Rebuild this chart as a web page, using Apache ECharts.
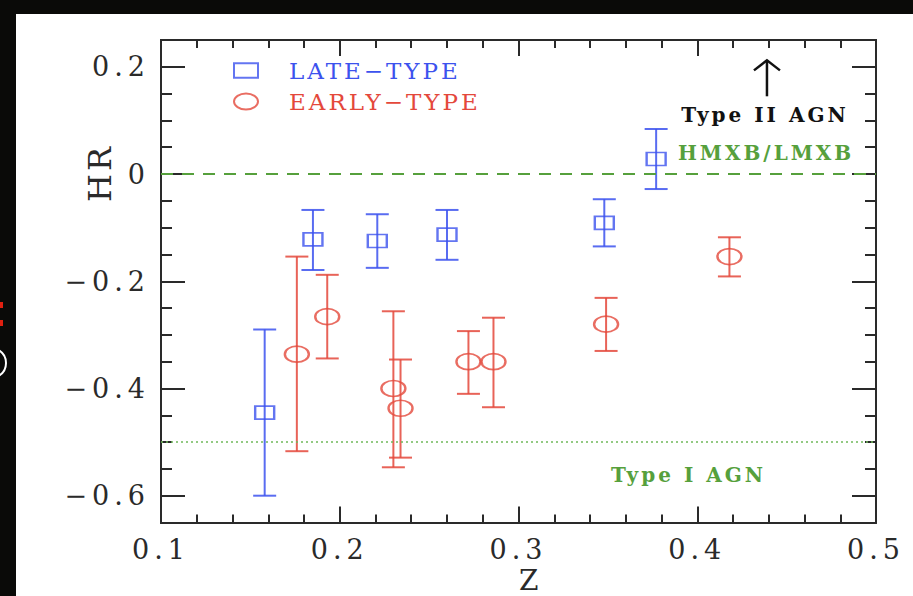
<!DOCTYPE html>
<html>
<head>
<meta charset="utf-8">
<script src="https://cdn.jsdelivr.net/npm/echarts@6/dist/echarts.min.js"></script>
<style>
  html, body { margin: 0; padding: 0; background: #0a0a08; }
  #chart { width: 913px; height: 596px; }
  #chart svg text { letter-spacing: 3px; }
  #chart svg text[style*="27px"] { letter-spacing: 5px; }
</style>
</head>
<body>
<div id="chart"></div>
<script>
// Hardness ratio vs redshift for late- and early-type hosts
const lateZ  = [0.158, 0.185, 0.221, 0.260, 0.348, 0.377];
const lateHR = [-0.445, -0.122, -0.125, -0.113, -0.091, 0.028];
const lateHi = [-0.290, -0.067, -0.075, -0.067, -0.047, 0.084];
const lateLo = [-0.600, -0.179, -0.175, -0.160, -0.135, -0.028];

const earlyZ  = [0.176, 0.193, 0.230, 0.234, 0.272, 0.286, 0.349, 0.418];
const earlyHR = [-0.336, -0.266, -0.400, -0.437, -0.350, -0.350, -0.280, -0.154];
const earlyHi = [-0.154, -0.188, -0.256, -0.346, -0.293, -0.268, -0.231, -0.118];
const earlyLo = [-0.517, -0.344, -0.547, -0.529, -0.410, -0.435, -0.330, -0.191];

const xMajor = [0.1, 0.2, 0.3, 0.4, 0.5];
const xMinor = [0.12, 0.14, 0.16, 0.18, 0.22, 0.24, 0.26, 0.28, 0.32, 0.34, 0.36, 0.38, 0.42, 0.44, 0.46, 0.48];
const yMajor = [-0.6, -0.4, -0.2, 0, 0.2];
const yMinor = [-0.65, -0.55, -0.5, -0.45, -0.35, -0.3, -0.25, -0.15, -0.1, -0.05, 0.05, 0.1, 0.15, 0.25];

// reference levels
const hmxbLevel = 0;
const type1Level = -0.5;

// text notes in data coordinates
const noteText = ['Type II AGN', 'HMXB/LMXB', 'Type I AGN'];
const noteZ    = [0.4379, 0.4385, 0.3951];
const noteHR   = [0.1106, 0.040, -0.5623];
const arrowZ = 0.439;
const arrowFrom = 0.145;
const arrowTo = 0.212;

const BLUE = '#3c52ee';
const RED = '#e4483b';
const GREEN = '#56a03c';
const INK = '#2a2a2a';
const FONT = 'DejaVu Serif';

const lateName = 'LATE\u2212TYPE';
const earlyName = 'EARLY\u2212TYPE';
const ellipse = 'path://M0,8A12,8 0 1,1 24,8A12,8 0 1,1 0,8Z';

function fmt(v) {
  const s = (Math.abs(v) < 1e-9) ? '0' : v.toFixed(1);
  return s.replace('-', '\u2212');
}

function errorBars(color) {
  return function (params, api) {
    const top = api.coord([api.value(0), api.value(2)]);
    const bot = api.coord([api.value(0), api.value(1)]);
    const hw = 11.5;
    const st = { stroke: color, lineWidth: 2, opacity: 0.85 };
    return {
      type: 'group',
      children: [
        { type: 'line', shape: { x1: top[0], y1: top[1], x2: bot[0], y2: bot[1] }, style: st },
        { type: 'line', shape: { x1: top[0] - hw, y1: top[1], x2: top[0] + hw, y2: top[1] }, style: st },
        { type: 'line', shape: { x1: bot[0] - hw, y1: bot[1], x2: bot[0] + hw, y2: bot[1] }, style: st }
      ]
    };
  };
}

const tickStyle = { color: INK, width: 2 };
function xAx(pos, ticks, len, labels) {
  return {
    type: 'value', position: pos, min: 0.1, max: 0.5,
    axisLine: { show: true, onZero: false, lineStyle: tickStyle },
    axisTick: { show: true, inside: true, length: len, customValues: ticks, lineStyle: tickStyle },
    axisLabel: labels ? { show: true, customValues: xMajor, formatter: fmt, margin: 13,
      color: INK, fontFamily: FONT, fontSize: 27 } : { show: false },
    splitLine: { show: false }
  };
}
function yAx(pos, ticks, len, labels) {
  return {
    type: 'value', position: pos, min: -0.65, max: 0.25,
    axisLine: { show: true, onZero: false, lineStyle: tickStyle },
    axisTick: { show: true, inside: true, length: len, customValues: ticks, lineStyle: tickStyle },
    axisLabel: labels ? { show: true, customValues: yMajor, formatter: fmt, margin: 11,
      color: INK, fontFamily: FONT, fontSize: 27 } : { show: false },
    splitLine: { show: false }
  };
}

const chart = echarts.init(document.getElementById('chart'), null, { renderer: 'svg' });

chart.setOption({
  backgroundColor: '#0a0a08',
  animation: false,
  grid: { left: 161, top: 40, width: 715, height: 482.5 },
  xAxis: [
    xAx('bottom', xMajor, 16, true),
    xAx('bottom', xMinor, 8, false),
    xAx('top', xMajor, 16, false),
    xAx('top', xMinor, 8, false)
  ],
  yAxis: [
    yAx('left', yMajor, 24, true),
    yAx('left', yMinor, 11, false),
    yAx('right', yMajor, 24, false),
    yAx('right', yMinor, 11, false)
  ],
  legend: {
    orient: 'vertical', left: 228, top: 54, itemGap: 8,
    itemWidth: 24, itemHeight: 16,
    data: [
      { name: lateName, icon: 'path://M2,2H22V14H2Z', textStyle: { color: BLUE } },
      { name: earlyName, icon: ellipse, textStyle: { color: RED } }
    ],
    textStyle: { fontFamily: FONT, fontSize: 23, padding: [0, 0, 0, 26] },
    selectedMode: false
  },
  graphic: [
    { type: 'rect', z: -100, shape: { x: 16, y: 14, width: 897, height: 582 }, style: { fill: '#ffffff' } },
    { type: 'text', left: 84, top: 150, rotation: Math.PI / 2,
      style: { text: 'HR', fill: INK, font: '32px "DejaVu Serif"' } },
    { type: 'text', left: 519, top: 566,
      style: { text: 'Z', fill: INK, font: '28px "DejaVu Serif"' } },
    { type: 'rect', shape: { x: 0, y: 302, width: 3, height: 6 }, style: { fill: '#e02010' } },
    { type: 'rect', shape: { x: 0, y: 320, width: 3, height: 6 }, style: { fill: '#e02010' } },
    { type: 'arc', shape: { cx: -9, cy: 363, r: 15, startAngle: -1.1, endAngle: 1.1 },
      style: { stroke: '#ffffff', lineWidth: 2, fill: null } }
  ],
  series: [
    {
      name: lateName, type: 'scatter', xAxisIndex: 0, yAxisIndex: 0,
      symbol: 'rect', symbolSize: [19, 13],
      itemStyle: { color: 'rgba(255,255,255,0)', borderColor: BLUE, borderWidth: 2 },
      data: lateZ.map((z, i) => [z, lateHR[i]]),
      z: 5
    },
    {
      name: lateName, type: 'custom', renderItem: errorBars(BLUE),
      data: lateZ.map((z, i) => [z, lateLo[i], lateHi[i]]), z: 4
    },
    {
      name: earlyName, type: 'scatter',
      symbol: ellipse, symbolKeepAspect: false, symbolSize: [24, 16],
      itemStyle: { color: 'rgba(255,255,255,0)', borderColor: RED, borderWidth: 2 },
      data: earlyZ.map((z, i) => [z, earlyHR[i]]),
      z: 5
    },
    {
      name: earlyName, type: 'custom', renderItem: errorBars(RED),
      data: earlyZ.map((z, i) => [z, earlyLo[i], earlyHi[i]]), z: 4
    },
    {
      name: 'levels', type: 'line', data: [], z: 3,
      markLine: {
        silent: true, symbol: ['none', 'none'], label: { show: false },
        data: [
          { yAxis: hmxbLevel, lineStyle: { color: GREEN, type: [12, 9], width: 2 } },
          { yAxis: type1Level, lineStyle: { color: '#6fb85a', type: [2, 3], width: 1.5 } }
        ]
      }
    },
    {
      name: 'notes', type: 'custom', z: 6,
      data: noteText.map((t, i) => [noteZ[i], noteHR[i], i]),
      renderItem: function (params, api) {
        const i = api.value(2);
        const p = api.coord([api.value(0), api.value(1)]);
        const children = [{
          type: 'text', x: p[0], y: p[1],
          style: { text: noteText[i], fill: i === 0 ? '#111111' : GREEN,
            font: 'bold 20px "DejaVu Serif"', align: 'center', verticalAlign: 'middle' }
        }];
        if (i === 0) {
          const a = api.coord([arrowZ, arrowFrom]);
          const b = api.coord([arrowZ, arrowTo]);
          children.push({ type: 'line', shape: { x1: a[0], y1: a[1], x2: b[0], y2: b[1] },
            style: { stroke: '#111111', lineWidth: 2.5 } });
          children.push({ type: 'polyline', shape: { points: [[b[0] - 13, b[1] + 10], [b[0], b[1]], [b[0] + 13, b[1] + 10]] },
            style: { stroke: '#111111', lineWidth: 2.5, fill: null } });
        }
        return { type: 'group', children: children };
      }
    }
  ]
});
</script>
</body>
</html>
